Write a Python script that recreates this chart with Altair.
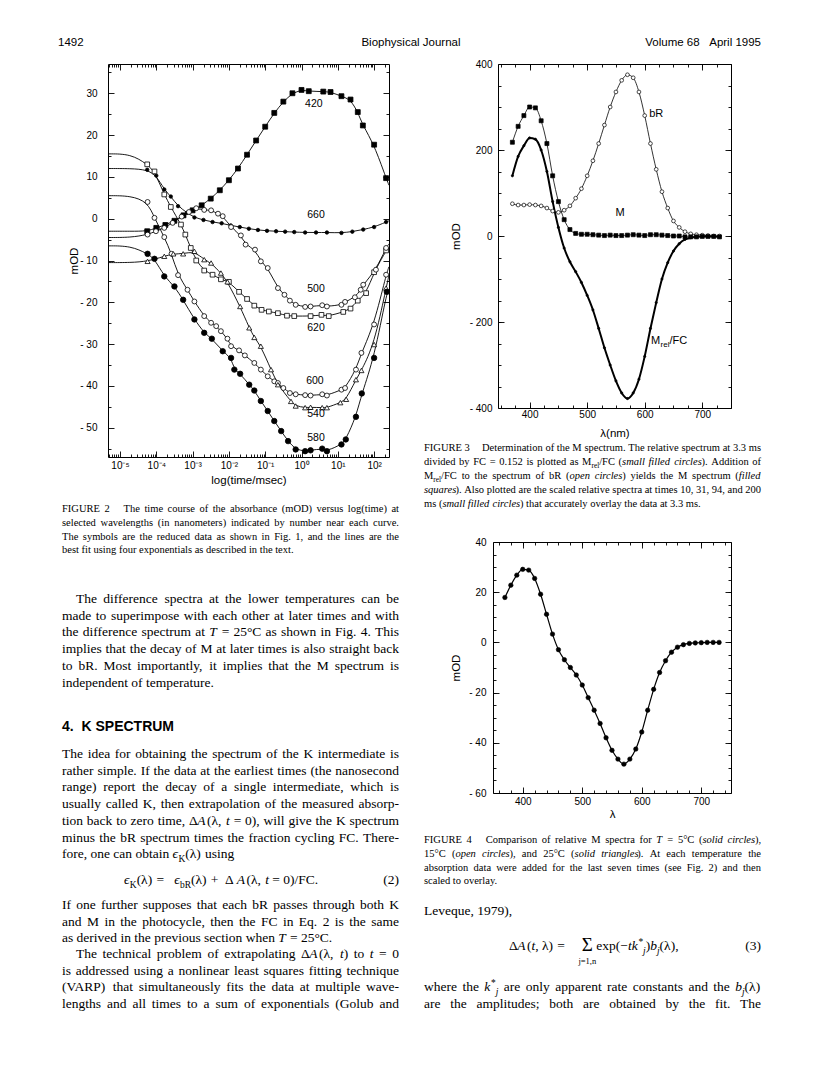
import re
import altair as alt
import pandas as pd

# ======================= DATA =======================
# ---- Figure 2 : log10(time / ms) and absorbance change (mOD) ----
t420 = [-4.25, -4.0, -3.75, -3.5, -3.25, -3.0, -2.75, -2.5, -2.25, -2.0, -1.75, -1.5, -1.25, -1.0,
        -0.75, -0.5, -0.25, 0.0, 0.2, 0.6, 0.8, 1.1, 1.35, 1.55, 1.69, 2.0, 2.33]
v420 = [-3.0, -2.2, -1.5, -0.5, 0.8, 2.0, 3.2, 4.8, 6.8, 9.2, 12.0, 15.3, 18.7, 22.0,
        25.3, 28.0, 30.0, 30.8, 30.5, 30.4, 30.3, 29.3, 28.5, 25.5, 22.3, 17.7, 9.7]

t660 = [-4.25, -4.0, -3.78, -3.6, -3.4, -3.15, -2.95, -2.7, -2.45, -2.2, -1.95, -1.7, -1.45, -1.2,
        -0.95, -0.7, -0.45, -0.2, 0.1, 0.4, 0.7, 1.1, 1.4, 1.7, 2.0, 2.33]
v660 = [11.7, 10.3, 7.0, 5.3, 3.0, 1.4, 0.3, -0.3, -0.8, -1.1, -1.6, -2.0, -2.4, -2.7,
        -2.9, -3.0, -3.1, -3.2, -3.3, -3.3, -3.3, -3.4, -3.1, -2.6, -2.0, -0.8]

t620 = [-4.25, -4.05, -3.78, -3.6, -3.32, -3.2, -3.05, -2.9, -2.68, -2.45, -2.22, -2.0, -1.72, -1.5,
        -1.3, -1.1, -0.9, -0.65, -0.4, -0.2, 0.25, 0.55, 0.75, 1.15, 1.35, 1.55, 1.78, 2.0, 2.33]
v620 = [13.0, 11.3, 5.8, 2.8, -1.4, -3.8, -7.0, -10.0, -12.4, -13.4, -14.5, -15.1, -17.5, -19.2,
        -20.8, -21.8, -22.2, -22.6, -23.2, -23.3, -23.3, -23.0, -23.3, -22.3, -21.5, -19.6, -17.8, -12.8, -7.6]

t500 = [-4.24, -4.01, -3.78, -3.55, -3.3, -3.1, -2.9, -2.68, -2.49, -2.3, -2.17, -1.94, -1.67, -1.54,
        -1.28, -1.12, -0.93, -0.65, -0.47, -0.32, -0.16, 0.1, 0.25, 0.57, 0.7, 1.1, 1.2, 1.47, 1.63,
        1.7, 2.05, 2.33]
v500 = [-3.8, -3.0, -2.2, -1.0, 0.5, 1.6, 2.5, 2.1, 2.0, 1.2, 0.6, -2.0, -4.0, -6.2,
        -7.4, -10.2, -11.8, -16.6, -18.2, -19.6, -20.6, -21.1, -21.0, -20.7, -21.0, -20.6, -19.9, -18.8, -17.0,
        -15.8, -12.2, -7.0]

t600 = [-4.24, -4.05, -3.78, -3.58, -3.4, -3.14, -2.95, -2.68, -2.49, -2.35, -2.22, -2.04, -1.94, -1.72,
        -1.56, -1.3, -1.12, -0.93, -0.75, -0.65, -0.5, -0.32, -0.16, 0.1, 0.25, 0.57, 0.7, 1.1, 1.2,
        1.5, 1.65, 2.0, 2.33]
v600 = [4.0, 0.2, -4.4, -8.4, -13.5, -17.0, -19.8, -23.3, -24.9, -25.7, -26.9, -28.7, -30.5, -31.5,
        -32.7, -34.5, -36.1, -37.7, -38.9, -39.3, -40.5, -41.7, -42.0, -42.2, -42.3, -42.0, -42.3, -40.9, -40.5,
        -36.1, -32.1, -25.3, -13.4]

t540 = [-4.24, -3.78, -3.53, -3.26, -2.95, -2.68, -2.49, -2.22, -2.04, -1.69, -1.44, -1.3, -1.12, -0.84,
        -0.65, -0.29, -0.16, 0.1, 0.25, 0.57, 0.7, 1.07, 1.23, 1.5, 1.65, 2.0, 2.33]
v540 = [-10.2, -9.0, -8.4, -8.4, -7.8, -9.8, -10.6, -13.0, -15.1, -21.0, -26.1, -28.4, -30.5, -36.1,
        -39.7, -43.7, -44.8, -45.2, -45.1, -45.2, -45.2, -44.0, -43.2, -38.5, -36.3, -30.1, -16.6]

t580 = [-4.24, -4.05, -3.78, -3.5, -3.26, -2.95, -2.68, -2.47, -2.17, -1.94, -1.85, -1.69, -1.44, -1.3,
        -1.12, -0.93, -0.75, -0.56, -0.37, -0.16, 0.1, 0.25, 0.57, 0.7, 1.1, 1.22, 1.5, 1.66, 2.0, 2.35]
v580 = [-8.4, -9.6, -13.8, -16.2, -19.4, -24.1, -27.3, -28.7, -31.7, -33.3, -36.1, -37.1, -39.7, -41.1,
        -43.6, -46.0, -48.4, -50.8, -53.2, -55.2, -55.6, -55.4, -55.0, -55.6, -54.0, -52.8, -47.4, -41.8, -33.3, -17.5]

# fitted curves: plateau value at the earliest times and value at the latest time
fit_plateau_t = -4.7
fit_start = {"420": -3.0, "660": 12.0, "620": 15.5, "500": -4.5, "600": 5.5, "540": -10.5, "580": -6.5}
fit_end = {"420": 8.0, "660": -0.5, "620": -7.0, "500": -6.0, "600": -11.5, "540": -13.5, "580": -17.0}

# curve labels (log10 time, mOD)
lab2_name = ["420", "660", "500", "620", "600", "540", "580"]
lab2_t = [0.34, 0.40, 0.40, 0.40, 0.37, 0.40, 0.40]
lab2_v = [27.5, 0.8, -16.9, -26.2, -38.8, -46.7, -52.4]

# ---- Figure 3 : spectra vs wavelength (nm) ----
lam = [370, 380, 390, 400, 410, 420, 430, 440, 450, 460, 470, 480, 490, 500, 510, 520, 530, 540, 550,
       560, 570, 580, 590, 600, 610, 620, 630, 640, 650, 660, 670, 680, 690, 700, 710, 720, 730]
bR = [75, 72, 72, 73, 72, 70, 65, 58, 55, 60, 70, 88, 110, 140, 175, 215, 258, 300, 335,
      362, 375, 368, 335, 280, 215, 155, 103, 65, 35, 20, 10, 5, 3, 2, 1, 0, 0]
Mspec = [218, 255, 280, 300, 298, 268, 215, 140, 80, 38, 15, 6, 4, 4, 3, 2, 1, 2, 1,
         1, 2, 3, 2, 1, 3, 3, 2, 1, 0, 0, -2, -2, -2, -1, -1, -1, -2]
Mrel = [140, 185, 210, 228, 225, 200, 150, 80, 20, -28, -60, -83, -108, -138, -172, -215, -260, -300, -337,
        -365, -378, -365, -333, -280, -215, -155, -100, -62, -35, -18, -8, -4, -2, -1, -1, -1, -2]

# ---- Figure 4 : relative M spectrum (mOD) ----
Mrel4 = [17.9, 22.8, 26.8, 29.1, 28.8, 25.5, 19.2, 11.2, 3.3, -2.9, -6.9, -10.0, -13.0, -17.0, -22.0, -27.0,
         -32.3, -38.0, -43.0, -46.5, -48.5, -46.5, -42.5, -35.7, -27.0, -18.7, -12.0, -7.3, -3.9, -1.9,
         -0.9, -0.4, -0.2, -0.1, 0.0, 0.0, 0.0]

# ---- page text ----
header = ["1492", "Biophysical Journal", "Volume 68\u00a0\u00a0\u00a0April 1995"]

cap2 = ["FIGURE 2 ~ The time course of the absorbance (mOD) versus log(time) at",
        "selected wavelengths (in nanometers) indicated by number near each curve.",
        "The symbols are the reduced data as shown in Fig. 1, and the lines are the",
        "best fit using four exponentials as described in the text."]
cap3 = ["FIGURE 3 ~ Determination of the M spectrum. The relative spectrum at 3.3 ms",
        "divided by FC = 0.152 is plotted as M{_:rel}/FC ({i:small filled circles}). Addition of",
        "M{_:rel}/FC to the spectrum of bR ({i:open circles}) yields the M spectrum ({i:filled}",
        "{i:squares}). Also plotted are the scaled relative spectra at times 10, 31, 94, and 200",
        "ms ({i:small filled circles}) that accurately overlay the data at 3.3 ms."]
cap4 = ["FIGURE 4 ~ Comparison of relative M spectra for {i:T} = 5°C ({i:solid circles}),",
        "15°C ({i:open circles}), and 25°C ({i:solid triangles}). At each temperature the",
        "absorption data were added for the last seven times (see Fig. 2) and then",
        "scaled to overlay."]
para1 = ["The difference spectra at the lower temperatures can be",
         "made to superimpose with each other at later times and with",
         "the difference spectrum at {i:T} = 25°C as shown in Fig. 4. This",
         "implies that the decay of M at later times is also straight back",
         "to bR. Most importantly, it implies that the M spectrum is",
         "independent of temperature."]
heading = "4.\u00a0\u00a0K SPECTRUM"
para2 = ["The idea for obtaining the spectrum of the K intermediate is",
         "rather simple. If the data at the earliest times (the nanosecond",
         "range) report the decay of a single intermediate, which is",
         "usually called K, then extrapolation of the measured absorp-",
         "tion back to zero time, Δ{i:A}(λ, {i:t} = 0), will give the K spectrum",
         "minus the bR spectrum times the fraction cycling FC. There-",
         "fore, one can obtain {i:ϵ}{_:K}(λ) using"]
eq2 = "{i:ϵ}{_:K}(λ) \u00a0= \u00a0{i:ϵ}{_:bR}(λ) \u00a0+ \u00a0Δ{i:A}(λ, {i:t} = 0)/FC."
para3 = ["If one further supposes that each bR passes through both K",
         "and M in the photocycle, then the FC in Eq. 2 is the same",
         "as derived in the previous section when {i:T} = 25°C."]
para4 = ["The technical problem of extrapolating Δ{i:A}(λ, {i:t}) to {i:t} = 0",
         "is addressed using a nonlinear least squares fitting technique",
         "(VARP) that simultaneously fits the data at multiple wave-",
         "lengths and all times to a sum of exponentials (Golub and"]
para5a = ["Leveque, 1979),"]
eq3a = "Δ{i:A}({i:t}, λ) \u00a0="
eq3b = "exp(−{i:tk}{^:*}{_i:j}){i:b}{_i:j}(λ),"
para5 = ["where the {i:k}{^:*}{_i:j} are only apparent rate constants and the {i:b}{_i:j}(λ)",
         "are the amplitudes; both are obtained by the fit. The"]

# ======================= LAYOUT =======================
SANS = "Liberation Sans"
SERIF = "Liberation Serif"
OX2, OY2, W2, H2 = 107, 63, 281, 393      # figure 2 plot box on the page
W3, H3 = 233, 344                          # figure 3 plot box
W4, H4 = 238, 251                          # figure 4 plot box

TIMES = {}
for ch, w in zip(" !\"#$%&'()*+,-./", [250, 333, 408, 500, 500, 833, 778, 180, 333, 333, 500, 564, 250, 333, 250, 278]):
    TIMES[ch] = w
for d in "0123456789":
    TIMES[d] = 500
TIMES.update({':': 278, ';': 278, '<': 564, '=': 564, '>': 564, '?': 444, '[': 333, ']': 333,
              '°': 400, 'Δ': 612, 'λ': 549, 'ϵ': 430, 'Σ': 600, '−': 564, '\u00a0': 250})
TIMES.update(dict(zip("ABCDEFGHIJKLMNOPQRSTUVWXYZ",
                      [722, 667, 667, 722, 611, 556, 722, 722, 333, 389, 722, 611, 889, 722, 722, 556, 722, 667, 556,
                       611, 722, 722, 944, 722, 722, 611])))
TIMES.update(dict(zip("abcdefghijklmnopqrstuvwxyz",
                      [444, 500, 444, 500, 444, 333, 500, 500, 278, 278, 500, 278, 778, 500, 500, 500, 500, 333, 389,
                       278, 500, 500, 722, 500, 500, 444])))


def tw(s, size):
    return sum(TIMES.get(c, 500) for c in s) * size / 1000.0


TOK = re.compile(r'\{(i|_|\^|_i):([^}]*)\}')


def parse(line):
    segs, pos = [], 0
    for m in TOK.finditer(line):
        if m.start() > pos:
            segs.append(('r', line[pos:m.start()]))
        segs.append((m.group(1), m.group(2)))
        pos = m.end()
    if pos < len(line):
        segs.append(('r', line[pos:]))
    words = [[]]
    for st, txt in segs:
        for k, p in enumerate(txt.split(' ')):
            if k > 0:
                words.append([])
            if p:
                words[-1].append((st, p))
    return [w for w in words if w]


def seg_size(st, size):
    return size * 0.7 if st in ('_', '^', '_i') else size


def word_w(w, size):
    return sum(tw(t, seg_size(st, size)) for st, t in w)


ROWS = []


def layout_line(line, x0, width, y, size, justify):
    words = parse(line)
    items = []
    extra = 0.0
    for w in words:
        if w == [('r', '~')]:
            extra += 0.9 * size
            continue
        items.append((w, extra))
        extra = 0.0
    tot = sum(word_w(w, size) + ex for w, ex in items)
    gap = 0.25 * size
    if justify and len(items) > 1:
        gap = (width - tot) / (len(items) - 1)
    x = x0
    for w, ex in items:
        x += ex
        cx = x
        for st, t in w:
            fs = seg_size(st, size)
            dy = 0.3 * size if st in ('_', '_i') else (-0.4 * size if st == '^' else 0.0)
            ROWS.append({'px': cx - OX2, 'py': y + dy - OY2, 'txt': t, 'fs': fs,
                         'sty': 'italic' if st in ('i', '_i') else 'normal'})
            cx += tw(t, fs)
        x += word_w(w, size) + gap
    return x - gap


def block(lines, x0, width, y0, dy, size, indent=0, justify_last=False):
    for i, line in enumerate(lines):
        ind = indent if i == 0 else 0
        j = (i < len(lines) - 1) or justify_last
        layout_line(line, x0 + ind, width - ind, y0 + i * dy + 0.3 * size, size, j)


BODY, CAP, DY = 13.5, 10.5, 16.7
block(cap2, 61, 337, 508, 13.7, CAP)
block(para1, 61, 337, 598, DY, BODY, indent=14)
block(para2, 61, 337, 753, DY, BODY)
layout_line(eq2, 123, 0, 879 + 0.3 * BODY, BODY, False)
block(para3, 61, 337, 904, DY, BODY)
block(para4, 61, 337, 953, DY, BODY, indent=14, justify_last=True)
block(cap3, 423, 337, 446.5, 14.2, CAP)
block(cap4, 423, 337, 839, 13.7, CAP)
block(para5a, 423, 337, 910, DY, BODY)
eq3_end = layout_line(eq3a, 508, 0, 945 + 0.3 * BODY, BODY, False)
sigma_x = eq3_end + 12
layout_line(eq3b, sigma_x + 16, 0, 945 + 0.3 * BODY, BODY, False)
block(para5, 423, 337, 986, DY, BODY, justify_last=True)

text_df = pd.DataFrame(ROWS)


def text_layer(df, style):
    return alt.Chart(df).mark_text(align='left', baseline='alphabetic', font=SERIF, fontStyle=style,
                                   color='black').encode(
        x=alt.X('px:Q', scale=None, axis=None),
        y=alt.Y('py:Q', scale=None, axis=None),
        size=alt.Size('fs:Q', scale=None, legend=None),
        text='txt:N')


def single(txt, x, y, size, font=SANS, align='left', weight='normal', baseline='middle'):
    return alt.Chart(pd.DataFrame({'t': [txt]})).mark_text(
        align=align, baseline=baseline, font=font, fontSize=size, fontWeight=weight, color='black').encode(
        x=alt.value(x - OX2), y=alt.value(y - OY2), text='t:N')


page_text = [
    text_layer(text_df[text_df.sty == 'normal'], 'normal'),
    text_layer(text_df[text_df.sty == 'italic'], 'italic'),
    single(header[0], 57, 42, 11.5),
    single(header[1], 410, 42, 11.5, align='center'),
    single(header[2], 760, 42, 11.5, align='right'),
    single(heading, 61, 726, 14, weight='bold'),
    single("(2)", 398, 879, BODY, font=SERIF, align='right'),
    single("(3)", 760, 945, BODY, font=SERIF, align='right'),
    single("Σ", sigma_x + 7, 944, 19, font=SERIF, align='center'),
    single("j=1,n", sigma_x + 7, 960, 8.5, font=SERIF, align='center'),
]

anchor = alt.Chart(pd.DataFrame({'a': [0]})).mark_point(opacity=0, filled=True, size=1, strokeWidth=0).encode(
    x=alt.value(8.5 - OX2), y=alt.value(8.5 - OY2))

NEG = "datum.value < 0 ? '- ' + format(-datum.value, 'd') : format(datum.value, 'd')"


def frame_layers(df, xf, yf, xs, ys, xmaj, xmin, ymaj, ymin, xexpr, xtitle, ytitle, lpx, lpy,
                 xt_pos, yt_pos, W, H):
    base = alt.Chart(df).mark_point(opacity=0)

    def ax(orient, vals, size, show, lp=0, expr=None, title=None, tpos=None):
        kw = dict(orient=orient, values=vals, tickSize=size, offset=-size, domain=False, grid=False,
                  ticks=True, tickColor='black', tickWidth=0.9, labels=show, title=title,
                  labelFlush=False, labelOverlap=False)
        if show:
            kw.update(labelPadding=lp)
            if expr:
                kw.update(labelExpr=expr)
        if title is not None:
            if orient == 'bottom':
                kw.update(titleX=W / 2, titleY=tpos, titleBaseline='middle', titleAlign='center')
            else:
                kw.update(titleX=tpos, titleY=H / 2, titleBaseline='middle', titleAlign='center')
        return alt.Axis(**kw)

    layers = [
        base.encode(x=alt.X(xf, type='quantitative', scale=xs, axis=ax('bottom', xmaj, 6, True, lpx, xexpr, xtitle, xt_pos)),
                    y=alt.Y(yf, type='quantitative', scale=ys, axis=ax('left', ymaj, 6, True, lpy, NEG, ytitle, yt_pos))),
        base.encode(x=alt.X(xf, type='quantitative', scale=xs, axis=ax('top', xmaj, 6, False)),
                    y=alt.Y(yf, type='quantitative', scale=ys, axis=ax('right', ymaj, 6, False))),
        base.encode(x=alt.X(xf, type='quantitative', scale=xs, axis=ax('bottom', xmin, 3, False)),
                    y=alt.Y(yf, type='quantitative', scale=ys, axis=ax('left', ymin, 3, False))),
        base.encode(x=alt.X(xf, type='quantitative', scale=xs, axis=ax('top', xmin, 3, False)),
                    y=alt.Y(yf, type='quantitative', scale=ys, axis=ax('right', ymin, 3, False))),
    ]
    return layers


# ---------------- Figure 2 ----------------
series2 = {"420": (t420, v420), "660": (t660, v660), "620": (t620, v620), "500": (t500, v500),
           "600": (t600, v600), "540": (t540, v540), "580": (t580, v580)}
T_MIN, T_MAX = -5.33, 2.41
pts, lns = [], []
for k, (ts, vs) in series2.items():
    for t, v in zip(ts, vs):
        pts.append({'series': k, 'time': 10 ** t, 'mod': v})
    knots = [(T_MIN, fit_start[k]), (fit_plateau_t, fit_start[k])] + list(zip(ts, vs)) + [(T_MAX, fit_end[k])]
    for t, v in knots:
        lns.append({'series': k, 'time': 10 ** t, 'mod': v})
pts2 = pd.DataFrame(pts)
lns2 = pd.DataFrame(lns)

xs2 = alt.Scale(type='log', domain=[10 ** T_MIN, 10 ** T_MAX], nice=False)
ys2 = alt.Scale(domain=[-57, 37], nice=False, zero=False)
xmaj2 = [10.0 ** k for k in range(-5, 3)]
xmin2 = [m * 10.0 ** k for k in range(-6, 3) for m in range(2, 10) if 10 ** T_MIN <= m * 10.0 ** k <= 10 ** T_MAX]
ymaj2 = list(range(-50, 31, 10))
ymin2 = list(range(-55, 36, 10))
SUP = "['10\u207b\u2075','10\u207b\u2074','10\u207b\u00b3','10\u207b\u00b2','10\u207b\u00b9','10\u2070','10\u00b9','10\u00b2'][round(log(datum.value)/LN10)+5]"

sym = {"420": ("square", 'black', 24), "660": ("circle", 'black', 12), "620": ("square", 'white', 22),
       "500": ("circle", 'white', 24), "600": ("circle", 'white', 24), "540": ("triangle-up", 'white', 26),
       "580": ("circle", 'black', 30)}

fig2_layers = frame_layers(pts2, 'time', 'mod', xs2, ys2, xmaj2, xmin2, ymaj2, ymin2, SUP,
                           'log(time/msec)', 'mOD', 3, 11, 29, 73.5 - (OX2 + 6), W2, H2)
fig2_layers.append(alt.Chart(lns2).mark_line(interpolate='basis', color='black', strokeWidth=0.9).encode(
    x=alt.X('time:Q', scale=xs2, axis=None), y=alt.Y('mod:Q', scale=ys2, axis=None), detail='series:N'))
for k, (shape, fill, size) in sym.items():
    fig2_layers.append(alt.Chart(pts2[pts2.series == k]).mark_point(
        shape=shape, filled=True, fill=fill, stroke='black', strokeWidth=0.8, size=size, opacity=1).encode(
        x=alt.X('time:Q', scale=xs2, axis=None), y=alt.Y('mod:Q', scale=ys2, axis=None)))
lab2 = pd.DataFrame({'time': [10 ** t for t in lab2_t], 'mod': lab2_v, 't': lab2_name})
fig2_layers.append(alt.Chart(lab2).mark_text(font=SANS, fontSize=10.5, color='black').encode(
    x=alt.X('time:Q', scale=xs2, axis=None), y=alt.Y('mod:Q', scale=ys2, axis=None), text='t:N'))

fig2 = alt.layer(*(fig2_layers + page_text + [anchor])).resolve_axis(
    x='independent', y='independent').properties(width=W2, height=H2)

# ---------------- Figure 3 ----------------
df3 = pd.DataFrame({'lam': lam * 3, 'val': bR + Mspec + Mrel,
                    'series': ['bR'] * len(lam) + ['M'] * len(lam) + ['Mrel'] * len(lam)})
xs3 = alt.Scale(domain=[345, 750], nice=False, zero=False)
ys3 = alt.Scale(domain=[-400, 400], nice=False, zero=False)
fig3_layers = frame_layers(df3, 'lam', 'val', xs3, ys3, [400, 500, 600, 700], list(range(350, 751, 25)),
                           [-400, -200, 0, 200, 400], list(range(-350, 351, 50)), None,
                           'λ(nm)', 'mOD', 1, 6, 31, 455 - (497 + 6), W3, H3)
for s, sw in (('bR', 0.8), ('M', 0.8), ('Mrel', 2.0)):
    fig3_layers.append(alt.Chart(df3[df3.series == s]).mark_line(interpolate='monotone', color='black', strokeWidth=sw).encode(
        x=alt.X('lam:Q', scale=xs3, axis=None), y=alt.Y('val:Q', scale=ys3, axis=None)))
for s, shape, fill, size in (('bR', 'circle', 'white', 14), ('M', 'square', 'black', 16), ('Mrel', 'circle', 'black', 5)):
    fig3_layers.append(alt.Chart(df3[df3.series == s]).mark_point(
        shape=shape, filled=True, fill=fill, stroke='black', strokeWidth=0.7, size=size, opacity=1).encode(
        x=alt.X('lam:Q', scale=xs3, axis=None), y=alt.Y('val:Q', scale=ys3, axis=None)))
lab3 = pd.DataFrame({'lam': [620, 557, 611, 611, 611], 'val': [284, 53, -244, -244, -244],
                     't': ['bR', 'M', 'M', 'rel', '/FC']})
for i, (dx, dy, fs) in enumerate([(0, 0, 11), (0, 0, 11), (0, 0, 11), (9.5, 4, 8), (18.5, 0, 11)]):
    fig3_layers.append(alt.Chart(lab3.iloc[[i]]).mark_text(font=SANS, fontSize=fs, align='left' if i >= 2 else 'center',
                                                            dx=dx, dy=dy, color='black').encode(
        x=alt.X('lam:Q', scale=xs3, axis=None), y=alt.Y('val:Q', scale=ys3, axis=None), text='t:N'))
fig3 = alt.layer(*fig3_layers).resolve_axis(x='independent', y='independent').properties(width=W3, height=H3)

# ---------------- Figure 4 ----------------
df4 = pd.DataFrame({'lam': lam, 'val': Mrel4})
xs4 = alt.Scale(domain=[350, 750], nice=False, zero=False)
ys4 = alt.Scale(domain=[-60, 40], nice=False, zero=False)
fig4_layers = frame_layers(df4, 'lam', 'val', xs4, ys4, [400, 500, 600, 700], list(range(360, 741, 20)),
                           [-60, -40, -20, 0, 20, 40], list(range(-55, 40, 5)), None,
                           'λ', 'mOD', 3, 7, 27, 455 - (492 + 6), W4, H4)
fig4_layers.append(alt.Chart(df4).mark_line(interpolate='monotone', color='black', strokeWidth=1.2).encode(
    x=alt.X('lam:Q', scale=xs4, axis=None), y=alt.Y('val:Q', scale=ys4, axis=None)))
fig4_layers.append(alt.Chart(df4).mark_point(shape='circle', filled=True, fill='black', stroke='black',
                                             strokeWidth=0.6, size=20, opacity=1).encode(
    x=alt.X('lam:Q', scale=xs4, axis=None), y=alt.Y('val:Q', scale=ys4, axis=None)))
fig4 = alt.layer(*fig4_layers).resolve_axis(x='independent', y='independent').properties(width=W4, height=H4)

spacer = alt.Chart(pd.DataFrame({'a': [0]})).mark_point(opacity=0).encode(
    x=alt.value(0), y=alt.value(0)).properties(width=5, height=10, view=alt.ViewBackground(strokeOpacity=0))

# with flush bounds a nested concat row counts as zero height, so the gap spans figure 3 too
row3 = alt.hconcat(spacer, fig3, spacing=0, bounds='flush')
right = alt.vconcat(row3, fig4, spacing=541 - 63, bounds='flush')
chart = alt.hconcat(fig2, right, spacing=104, bounds='flush').properties(padding=0).configure_view(
    stroke='black', strokeWidth=1).configure_axis(
    labelFont=SANS, titleFont=SANS, labelFontSize=10, titleFontSize=11.5, titleFontWeight='normal',
    labelColor='black', titleColor='black')

chart.save("out.html", embed_options={"renderer": "svg", "actions": False})
